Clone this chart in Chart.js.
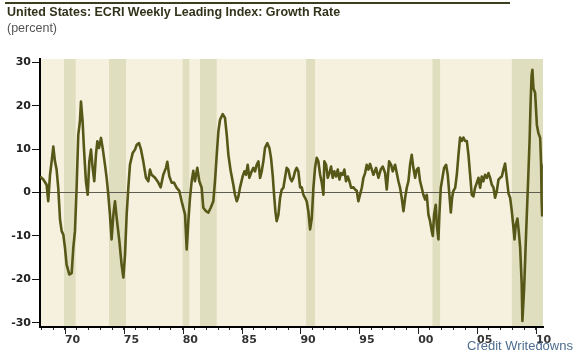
<!DOCTYPE html>
<html>
<head>
<meta charset="utf-8">
<script src="https://cdn.jsdelivr.net/npm/chart.js@4.4.0/dist/chart.umd.min.js"></script>
<style>
  html, body { margin: 0; padding: 0; background: #fff; }
  #wrap { position: relative; width: 576px; height: 354px; overflow: hidden; }
  canvas { position: absolute; left: 0; top: 0; }
  #rule { position: absolute; left: 5px; top: 2px; width: 505px; height: 2px; background: #3d3d1f; }
  #title { position: absolute; left: 7px; top: 5px; font: bold 12.5px/14px "Liberation Sans", Arial, sans-serif; color: #33331c; white-space: nowrap; }
  #unit { position: absolute; left: 7px; top: 21px; font: 12.5px/14px "Liberation Sans", Arial, sans-serif; color: #555; white-space: nowrap; }
  #credit { position: absolute; left: 467px; top: 339px; font: 13px/13px "Liberation Sans", Arial, sans-serif; color: #4e6d90; white-space: nowrap; }
</style>
</head>
<body>
<div id="wrap">
  <canvas id="chart" width="576" height="354"></canvas>
  <div id="rule"></div>
  <div id="title">United States: ECRI Weekly Leading Index: Growth Rate</div>
  <div id="unit">(percent)</div>
  <div id="credit">Credit Writedowns</div>
</div>
<script>
// dates as decimal years, growth in percent
const years = [
  1967.88, 1968.16, 1968.44, 1968.58, 1968.73, 1968.87, 1969.01, 1969.15, 1969.29, 1969.43,
  1969.58, 1969.72, 1969.86, 1970.00, 1970.14, 1970.37, 1970.57, 1970.71, 1970.85, 1970.99,
  1971.13, 1971.27, 1971.36, 1971.50, 1971.61, 1971.78, 1971.93, 1972.07, 1972.21, 1972.35,
  1972.49, 1972.63, 1972.75, 1972.89, 1973.06, 1973.20, 1973.40, 1973.54, 1973.68, 1973.82,
  1973.96, 1974.11, 1974.25, 1974.39, 1974.62, 1974.81, 1974.96, 1975.10, 1975.24, 1975.38,
  1975.52, 1975.75, 1975.95, 1976.09, 1976.29, 1976.46, 1976.65, 1976.88, 1977.08, 1977.22,
  1977.36, 1977.65, 1977.93, 1978.13, 1978.35, 1978.58, 1978.69, 1978.86, 1979.06, 1979.26,
  1979.49, 1979.71, 1979.91, 1980.05, 1980.20, 1980.34, 1980.48, 1980.62, 1980.76, 1980.90,
  1981.04, 1981.24, 1981.41, 1981.61, 1981.75, 1981.98, 1982.18, 1982.38, 1982.60, 1982.74,
  1982.89, 1983.03, 1983.17, 1983.40, 1983.59, 1983.74, 1983.88, 1984.08, 1984.30, 1984.44,
  1984.59, 1984.73, 1984.87, 1985.09, 1985.24, 1985.38, 1985.52, 1985.66, 1985.86, 1986.00,
  1986.14, 1986.28, 1986.43, 1986.57, 1986.71, 1986.85, 1986.99, 1987.19, 1987.36, 1987.50,
  1987.64, 1987.76, 1987.87, 1987.98, 1988.13, 1988.27, 1988.41, 1988.55, 1988.69, 1988.83,
  1988.97, 1989.12, 1989.26, 1989.40, 1989.54, 1989.68, 1989.82, 1989.97, 1990.11, 1990.25,
  1990.39, 1990.53, 1990.67, 1990.82, 1990.96, 1991.10, 1991.24, 1991.38, 1991.52, 1991.67,
  1991.81, 1991.95, 1992.03, 1992.18, 1992.32, 1992.46, 1992.60, 1992.74, 1992.88, 1993.03,
  1993.17, 1993.31, 1993.45, 1993.59, 1993.73, 1993.87, 1994.02, 1994.16, 1994.30, 1994.50,
  1994.64, 1994.78, 1994.92, 1995.06, 1995.21, 1995.35, 1995.49, 1995.63, 1995.77, 1995.91,
  1996.20, 1996.42, 1996.62, 1996.82, 1996.99, 1997.19, 1997.33, 1997.53, 1997.70, 1997.84,
  1998.04, 1998.18, 1998.32, 1998.46, 1998.60, 1998.75, 1998.89, 1999.03, 1999.17, 1999.31,
  1999.45, 1999.59, 1999.74, 1999.88, 2000.02, 2000.16, 2000.30, 2000.44, 2000.59, 2000.73,
  2000.87, 2001.01, 2001.15, 2001.24, 2001.35, 2001.49, 2001.58, 2001.72, 2001.80, 2001.92,
  2002.06, 2002.20, 2002.37, 2002.51, 2002.65, 2002.77, 2002.88, 2002.99, 2003.14, 2003.28,
  2003.42, 2003.56, 2003.70, 2003.84, 2003.98, 2004.13, 2004.27, 2004.41, 2004.55, 2004.69,
  2004.83, 2004.98, 2005.12, 2005.26, 2005.40, 2005.54, 2005.68, 2005.83, 2005.97, 2006.11,
  2006.25, 2006.39, 2006.53, 2006.68, 2006.82, 2006.96, 2007.10, 2007.24, 2007.38, 2007.52,
  2007.67, 2007.81, 2007.95, 2008.09, 2008.18, 2008.29, 2008.43, 2008.54, 2008.66, 2008.79,
  2008.85, 2009.00, 2009.17, 2009.34, 2009.46, 2009.55, 2009.63, 2009.70, 2009.79, 2009.93,
  2010.08, 2010.21, 2010.36, 2010.44, 2010.48, 2010.53
];
const growth = [
  3.7, 3.0, 1.8, -2.0, 4.1, 7.2, 10.6, 7.2, 5.3, 1.1,
  -6.2, -8.9, -9.7, -12.7, -16.6, -18.9, -18.6, -12.7, -8.9, 1.1,
  13.3, 16.4, 21.0, 16.4, 10.3, 2.6, -0.5, 7.2, 9.9, 5.7,
  2.6, 8.7, 11.8, 10.3, 12.6, 10.3, 6.4, 3.4, -0.5, -5.1,
  -10.8, -5.1, -2.0, -5.8, -11.2, -16.6, -19.6, -14.3, -5.1, 1.1,
  6.4, 9.1, 9.9, 11.0, 11.4, 9.9, 7.2, 3.4, 2.6, 5.3,
  4.1, 3.4, 2.3, 1.2, 4.1, 5.7, 7.1, 3.8, 2.3, 2.3,
  1.1, 0.4, -2.0, -3.5, -5.1, -13.1, -6.6, -1.2, 2.6, 5.0,
  2.6, 5.7, 2.6, 1.1, -3.5, -4.3, -4.6, -3.5, -2.0, 2.6,
  8.7, 14.1, 16.8, 18.1, 17.2, 13.3, 8.7, 4.9, 1.8, -0.5,
  -2.0, -0.9, 1.2, 3.7, 4.9, 4.1, 6.4, 3.4, 4.9, 5.7,
  4.9, 6.4, 7.2, 3.4, 4.9, 7.2, 10.3, 11.4, 10.3, 8.0,
  4.1, -0.5, -4.3, -6.6, -5.1, -1.2, 0.7, 1.1, 3.4, 5.7,
  5.3, 3.4, 2.6, 3.4, 4.9, 5.7, 4.9, 1.2, 1.2, -0.5,
  -1.2, -2.0, -4.3, -8.5, -6.0, 1.1, 5.7, 8.0, 7.2, 4.1,
  2.3, -0.5, 7.2, 6.4, 3.4, 4.5, 6.0, 3.4, 4.9, 3.7,
  5.3, 3.0, 4.5, 4.1, 5.3, 2.6, 3.7, 2.6, 1.1, 1.2,
  0.7, 0.4, -2.0, -0.5, 1.1, 3.4, 4.5, 6.4, 5.3, 6.6,
  4.1, 5.7, 3.4, 5.3, 6.0, 4.5, 0.7, 7.2, 6.4, 4.9,
  6.4, 4.5, 2.6, 1.1, -1.2, -4.3, -1.2, 1.1, 2.6, 6.4,
  8.7, 5.7, 3.4, 5.3, 5.7, 2.6, 1.1, -0.5, -1.6, -0.5,
  -5.1, -6.6, -8.9, -10.0, -5.1, -2.8, -7.4, -10.8, -5.1, 1.1,
  3.4, 5.7, 6.4, 4.1, -0.5, -4.6, -1.2, 0.4, 1.1, 4.1,
  8.7, 12.7, 11.9, 12.7, 11.9, 11.9, 8.7, 4.1, -0.5, -0.9,
  1.1, 2.3, 3.4, 1.1, 3.7, 2.6, 4.1, 3.4, 4.5, 3.4,
  1.8, 1.2, -1.2, 0.4, 3.0, 3.4, 3.7, 5.3, 6.7, 3.4,
  -0.2, -1.2, -4.3, -8.1, -10.8, -7.4, -6.0, -8.9, -12.7, -21.0,
  -29.6, -22.0, -9.0, 3.0, 12.0, 21.0, 27.0, 28.3, 24.0, 23.0,
  15.6, 13.7, 12.6, 6.4, -1.6, -5.5
];

// recession bands
const recStart = [1969.92, 1973.74, 1980.00, 1981.47, 1990.48, 2001.21, 2007.95];
const recEnd   = [1970.91, 1975.19, 1980.56, 1982.89, 1991.24, 2001.86, 2010.60];

const yTicks = [-30, -20, -10, 0, 10, 20, 30];
const xLabelYears = [1970, 1975, 1980, 1985, 1990, 1995, 2000, 2005, 2010];
const xLabels = ['70', '75', '80', '85', '90', '95', '00', '05', '10'];

const xMinorYears = [];
for (let y = 1968; y <= 2010; y++) xMinorYears.push(y);

const backdrop = {
  id: 'backdrop',
  beforeDraw(chart) {
    const { ctx, chartArea: a, scales: { x } } = chart;
    ctx.save();
    ctx.fillStyle = '#f6f1df';
    ctx.fillRect(a.left, a.top, a.right - a.left, a.bottom - a.top);
    ctx.fillStyle = '#dfdfc0';
    recStart.forEach((s, i) => {
      const x0 = Math.max(x.getPixelForValue(s), a.left);
      const x1 = Math.min(x.getPixelForValue(recEnd[i]), a.right);
      ctx.fillRect(x0, a.top, x1 - x0, a.bottom - a.top);
    });
    ctx.restore();
  },
  afterDraw(chart) {
    // longer ticks every five years
    const { ctx, chartArea: a, scales: { x } } = chart;
    ctx.save();
    ctx.strokeStyle = '#222';
    ctx.lineWidth = 1;
    xLabelYears.forEach(yr => {
      const px = Math.round(x.getPixelForValue(yr)) + 0.5;
      ctx.beginPath();
      ctx.moveTo(px, a.bottom + 1);
      ctx.lineTo(px, a.bottom + 7);
      ctx.stroke();
    });
    ctx.restore();
  }
};

new Chart(document.getElementById('chart'), {
  type: 'line',
  data: {
    datasets: [{
      data: years.map((yr, i) => ({ x: yr, y: growth[i] })),
      borderColor: '#575718',
      borderWidth: 2.6,
      pointRadius: 0,
      tension: 0,
      borderJoinStyle: 'round'
    }]
  },
  options: {
    responsive: false,
    animation: false,
    devicePixelRatio: 1,
    layout: { padding: { top: 59, right: 33, left: 0, bottom: 0 } },
    plugins: { legend: { display: false }, tooltip: { enabled: false } },
    scales: {
      x: {
        type: 'linear',
        min: 1967.88,
        max: 2010.6,
        afterFit(scale) { scale.height = 27; },
        afterBuildTicks(scale) { scale.ticks = xMinorYears.map(v => ({ value: v })); },
        border: { color: '#000', width: 2 },
        grid: { drawOnChartArea: false, tickLength: 3, tickColor: '#222', tickWidth: 1 },
        ticks: {
          autoSkip: false,
          maxRotation: 0,
          align: 'start',
          padding: 4,
          color: '#333',
          font: { family: 'DejaVu Sans', size: 11, weight: 'bold' },
          callback(v) {
            const i = xLabelYears.indexOf(v);
            return i >= 0 ? xLabels[i] : '';
          }
        }
      },
      y: {
        min: -31,
        max: 30.8,
        afterFit(scale) { scale.width = 40; },
        afterBuildTicks(scale) { scale.ticks = yTicks.map(v => ({ value: v })); },
        border: { color: '#000', width: 2 },
        grid: {
          color: ctx => (ctx.tick && ctx.tick.value === 0 ? '#5e5e50' : 'rgba(0,0,0,0)'),
          lineWidth: 1,
          tickColor: '#111',
          tickLength: 8
        },
        ticks: {
          padding: 1,
          color: '#222',
          font: { family: 'DejaVu Sans', size: 11, weight: 'bold' },
          callback: v => String(v)
        }
      }
    }
  },
  plugins: [backdrop]
});
</script>
</body>
</html>
